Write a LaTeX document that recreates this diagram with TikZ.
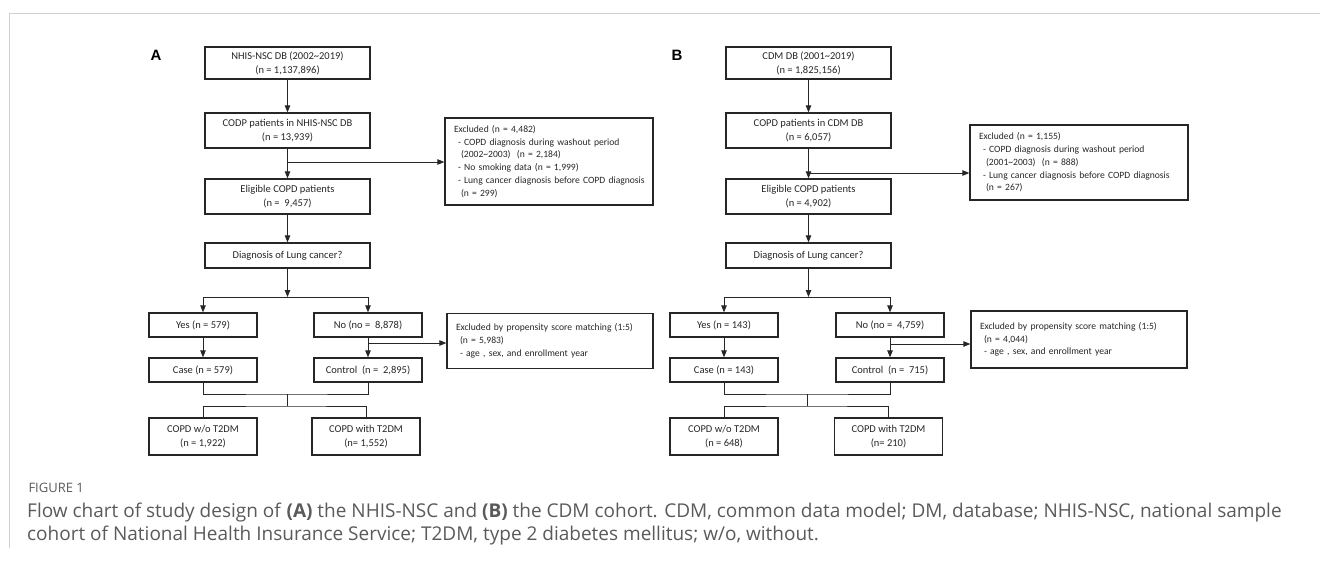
\documentclass[tikz,border=0pt]{standalone}
\usepackage{fontspec}
\setmainfont{Carlito}
\newfontfamily\capfont{Open Sans}
\newfontfamily\panelfont{Liberation Sans}
\usetikzlibrary{arrows.meta,positioning}
\definecolor{FlowInk}{HTML}{262626}
\definecolor{CapGrey}{HTML}{5A5A5A}
\definecolor{FrameGrey}{HTML}{D0D0D0}
\tikzset{
  every node/.style={font=\fontsize{10.5}{14}\selectfont, text=FlowInk},
  stage/.style={draw=FlowInk, line width=1.3pt, minimum width=165pt, inner sep=0pt, align=center},
  branch/.style={stage, minimum width=108pt, minimum height=24pt},
  exclbox/.style={draw=FlowInk, line width=1.3pt, inner xsep=5pt, inner ysep=0pt, align=left,
    font=\fontsize{9.6}{12.7}\selectfont},
  panel/.style={font=\panelfont\bfseries\fontsize{15}{15}\selectfont, text=black},
  link/.style={draw=FlowInk, line width=0.8pt},
  flow/.style={link, -{Triangle[length=7pt,width=5.5pt]}},
}

\begin{document}
\begin{tikzpicture}[x=1pt,y=-1pt]
  \useasboundingbox (0,0) rectangle (1320,565);
  % Page frame
  \draw[FrameGrey, line width=1pt] (1320,13) -- (9,13) -- (9,548);

  % ---------------- Panel A ----------------
  \node[panel] (labA) at (156,55) {A};
  \node[stage, minimum height=32pt] (a1) at (287.5,63) {NHIS-NSC DB (2002\textasciitilde 2019)\\(n = 1,137,896)};
  \node[stage, minimum height=35pt] (a2) at (287.5,130.5) {CODP patients in NHIS-NSC DB\\(n = 13,939)};
  \node[stage, minimum height=35pt] (a3) at (287.5,196.5) {Eligible COPD patients\\(n = \ 9,457)};
  \node[stage, minimum height=25pt] (a4) at (287.5,255.5) {Diagnosis of Lung cancer?};
  \node[branch] (ayes) at (203,325) {Yes (n = 579)};
  \node[branch] (ano) at (368,325) {No (no = \ 8,878)};
  \node[branch] (acase) at (203,370) {Case (n = 579)};
  \node[branch] (actrl) at (368,370) {Control \ (n = \ 2,895)};
  \node[branch, minimum height=37pt] (awo) at (203,436.5) {COPD w/o T2DM\\(n = 1,922)};
  \node[branch, minimum height=37pt] (awith) at (366,436.5) {COPD with T2DM\\(n= 1,552)};
  \node[exclbox, minimum height=87pt, text width=198pt] (ax1) at (549,161.5)
    {\hspace*{4pt}Excluded (n = 4,482)\\
     \hspace*{8pt}- COPD diagnosis during washout period\\
     \hspace*{11pt}(2002\textasciitilde 2003)\ \ (n = 2,184)\\
     \hspace*{8pt}- No smoking data (n = 1,999)\\
     \hspace*{8pt}- Lung cancer\ diagnosis before COPD diagnosis\\
     \hspace*{11pt}(n = 299)};
  \node[exclbox, minimum height=55pt, text width=196pt] (ax2) at (550,341)
    {\hspace*{4pt}Excluded by propensity score matching\ (1:5)\\
     \hspace*{8pt}(n = 5,983)\\
     \hspace*{8pt}- age , sex, and enrollment year};
  % Connectors A
  \draw[flow] (a1) -- (a2);
  \draw[flow] (a2) -- (a3);
  \coordinate (a23) at (287.5,162);
  \draw[flow] (a23) -- (a23 -| ax1.west);
  \draw[flow] (a3) -- (a4);
  \coordinate (asplit) at (287.5,297);
  \draw[flow] (a4) -- (asplit);
  \draw[link] (asplit -| ayes) -- (asplit -| ano);
  \draw[flow] (asplit -| ayes) -- (ayes);
  \draw[flow] (asplit -| ano) -- (ano);
  \draw[flow] (ayes) -- (acase);
  \draw[flow] (ano) -- (actrl);
  \coordinate (anox) at (368,343);
  \draw[flow] (anox) -- (anox -| ax2.west);
  \coordinate (am1) at (287.5,394);
  \coordinate (am2) at (287.5,406);
  \draw[link] (acase) |- (am1) -| (actrl);
  \draw[link] (am1) -- (am2);
  \draw[link] (awo) |- (am2) -| (awith);

  % ---------------- Panel B ----------------
  \node[panel] (labB) at (677,55) {B};
  \node[stage, minimum height=32pt] (b1) at (808.5,63) {CDM\ DB (2001\textasciitilde 2019)\\(n = 1,825,156)};
  \node[stage, minimum height=35pt] (b2) at (808.5,130.5) {COPD patients in CDM\ DB\\(n = 6,057)};
  \node[stage, minimum height=35pt] (b3) at (808.5,196.5) {Eligible COPD patients\\(n = 4,902)};
  \node[stage, minimum height=25pt] (b4) at (808.5,255.5) {Diagnosis of Lung cancer?};
  \node[branch] (byes) at (724,325) {Yes (n = 143)};
  \node[branch] (bno) at (890,325) {No (no = \ 4,759)};
  \node[branch] (bcase) at (724,370) {Case (n = 143)};
  \node[branch] (bctrl) at (890,370) {Control \ (n = \ 715)};
  \node[branch, minimum height=37pt] (bwo) at (724,436.5) {COPD w/o T2DM\\(n = 648)};
  \node[branch, minimum height=37pt] (bwith) at (888.5,436.5) {COPD with T2DM\\(n= 210)};
  \node[exclbox, minimum height=75pt, text width=208pt] (bx1) at (1079,162.5)
    {\hspace*{4pt}Excluded (n = 1,155)\\
     \hspace*{8pt}- COPD diagnosis during washout period\\
     \hspace*{11pt}(2001\textasciitilde 2003)\ \ (n = 888)\\
     \hspace*{8pt}- Lung cancer\ diagnosis before COPD diagnosis\\
     \hspace*{11pt}(n = 267)};
  \node[exclbox, minimum height=57pt, text width=206pt] (bx2) at (1079,339.5)
    {\hspace*{4pt}Excluded by propensity score matching\ (1:5)\\
     \hspace*{8pt}(n = 4,044)\\
     \hspace*{8pt}- age , sex, and enrollment year};
  % Connectors B
  \draw[flow] (b1) -- (b2);
  \draw[flow] (b2) -- (b3);
  \coordinate (b23) at (808.5,173);
  \draw[flow] (b23) -- (b23 -| bx1.west);
  \draw[flow] (b3) -- (b4);
  \coordinate (bsplit) at (808.5,297);
  \draw[flow] (b4) -- (bsplit);
  \draw[link] (bsplit -| byes) -- (bsplit -| bno);
  \draw[flow] (bsplit -| byes) -- (byes);
  \draw[flow] (bsplit -| bno) -- (bno);
  \draw[flow] (byes) -- (bcase);
  \draw[flow] (bno) -- (bctrl);
  \coordinate (bnox) at (890,344);
  \draw[flow] (bnox) -- (bnox -| bx2.west);
  \coordinate (bm1) at (807,394);
  \coordinate (bm2) at (807,406);
  \draw[link] (bcase) |- (bm1) -| (bctrl);
  \draw[link] (bm1) -- (bm2);
  \draw[link] (bwo) |- (bm2) -| (bwith);

  % ---------------- Caption ----------------
  \node[anchor=west, font=\capfont\fontsize{13}{13}\selectfont, text=CapGrey] (figno) at (25,488) {FIGURE 1};
  \node[anchor=north west, align=left, inner sep=0pt, font=\capfont\fontsize{19}{23}\selectfont, text=CapGrey] (caption) at (27,503)
    {Flow chart of study design of \textbf{(A)} the NHIS-NSC and \textbf{(B)} the CDM cohort. CDM, common data model; DM, database; NHIS-NSC, national sample\\
     cohort of National Health Insurance Service; T2DM, type 2 diabetes mellitus; w/o, without.};
\end{tikzpicture}
\end{document}
